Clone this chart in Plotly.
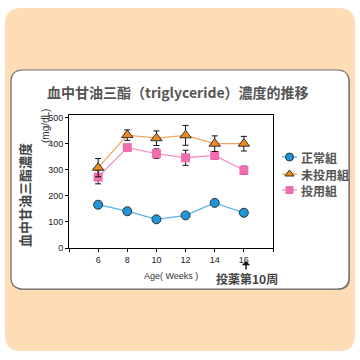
import plotly.graph_objects as go

weeks = [6, 8, 10, 12, 14, 16]
normal = [166, 141, 110, 125, 173, 135]
untreated = [308, 433, 421, 432, 400, 400]
untreated_err = [35, 20, 28, 38, 30, 28]
treated = [272, 385, 362, 346, 355, 298]
treated_err = [26, 10, 18, 29, 15, 16]
series_names = ["正常組", "未投用組", "投用組"]
x_ticks = [4, 6, 8, 10, 12, 14, 16, 18]
x_ticktext = ["", "6", "8", "10", "12", "14", "16", ""]
y_ticks = [0, 100, 200, 300, 400, 500]

W = H = 360
def px(x):
    return x / W
def py(y):
    return 1 - y / H

def rrect(x0, y0, x1, y1, r):
    rx = r / W
    ry = r / H
    X0, X1 = px(x0), px(x1)
    Y0, Y1 = py(y0), py(y1)  # Y0 top (larger), Y1 bottom
    return (f"M {X0+rx},{Y0} L {X1-rx},{Y0} Q {X1},{Y0} {X1},{Y0-ry} "
            f"L {X1},{Y1+ry} Q {X1},{Y1} {X1-rx},{Y1} "
            f"L {X0+rx},{Y1} Q {X0},{Y1} {X0},{Y1+ry} "
            f"L {X0},{Y0-ry} Q {X0},{Y0} {X0+rx},{Y0} Z")

blue_fill, blue_line = "#1E96D8", "#55B4E6"
orange_fill, orange_line = "#F08A1E", "#F4A55A"
pink_fill, pink_line = "#F06EB0", "#F290C2"
dark = "#333333"

fig = go.Figure()

fig.add_trace(go.Scatter(
    x=weeks, y=treated, mode="lines+markers", name=series_names[2],
    line=dict(color=pink_line, width=1.3),
    marker=dict(symbol="square", size=9, color=pink_fill, line=dict(width=0)),
    error_y=dict(type="data", array=treated_err, visible=True, color="#111", thickness=1, width=3),
    showlegend=False))
fig.add_trace(go.Scatter(
    x=weeks, y=untreated, mode="lines+markers", name=series_names[1],
    line=dict(color=orange_line, width=1.3),
    marker=dict(symbol="triangle-up", size=10, color=orange_fill, line=dict(width=1, color=dark)),
    error_y=dict(type="data", array=untreated_err, visible=True, color="#111", thickness=1, width=3),
    showlegend=False))
fig.add_trace(go.Scatter(
    x=weeks, y=normal, mode="lines+markers", name=series_names[0],
    line=dict(color=blue_line, width=1.3),
    marker=dict(symbol="circle", size=9, color=blue_fill, line=dict(width=1, color=dark)),
    showlegend=False))

# manual legend on an auxiliary axis
leg_y = [157, 174, 190]
leg_styles = [
    (blue_line, "circle", blue_fill, 1),
    (orange_line, "triangle-up", orange_fill, 1),
    (pink_line, "square", pink_fill, 0),
]
for yy, (lc, sym, fc, lw) in zip(leg_y, leg_styles):
    fig.add_trace(go.Scatter(
        x=[282, 297], y=[yy, yy], mode="lines", line=dict(color=lc, width=1.3),
        xaxis="x2", yaxis="y2", showlegend=False, hoverinfo="skip"))
    fig.add_trace(go.Scatter(
        x=[289.5], y=[yy], mode="markers",
        marker=dict(symbol=sym, size=8, color=fc, line=dict(width=lw, color=dark)),
        xaxis="x2", yaxis="y2", showlegend=False, hoverinfo="skip"))

shapes = [
    dict(type="path", path=rrect(5, 8, 355, 351, 16), xref="paper", yref="paper",
         fillcolor="#FDDCB6", line=dict(width=0), layer="below"),
    dict(type="path", path=rrect(12.5, 71.5, 350, 290, 12), xref="paper", yref="paper",
         fillcolor="#8a8a8a", line=dict(width=0), layer="below"),
    dict(type="path", path=rrect(11, 70, 349, 289, 12), xref="paper", yref="paper",
         fillcolor="white", line=dict(width=1.2, color="#6a6a6a"), layer="below"),
]

cjk = "Noto Sans CJK JP"
annotations = [
    dict(text="<b>血中甘油三酯（triglyceride）濃度的推移</b>", x=px(178), y=py(92),
         xref="paper", yref="paper", showarrow=False, font=dict(family=cjk, size=14, color="#555"),
         xanchor="center", yanchor="middle"),
    dict(text="<b>血中甘油三酯濃度</b>", x=px(24), y=py(195), textangle=-90,
         xref="paper", yref="paper", showarrow=False, font=dict(family=cjk, size=13, color="#444"),
         xanchor="center", yanchor="middle"),
    dict(text="(mg/dL)", x=px(46), y=py(126), textangle=-90,
         xref="paper", yref="paper", showarrow=False, font=dict(family="Liberation Sans", size=10, color="#333"),
         xanchor="center", yanchor="middle"),
    dict(text="Age( Weeks )", x=px(171), y=py(276),
         xref="paper", yref="paper", showarrow=False, font=dict(family="Liberation Sans", size=9, color="#333"),
         xanchor="center", yanchor="middle"),
    dict(text="<b>投薬第10周</b>", x=px(247), y=py(278),
         xref="paper", yref="paper", showarrow=False, font=dict(family=cjk, size=12, color="#444"),
         xanchor="center", yanchor="middle"),
    dict(text="", x=px(246), y=py(261), xref="paper", yref="paper", showarrow=True,
         ax=0, ay=10, arrowhead=1, arrowsize=1, arrowwidth=1.4, arrowcolor="#111"),
]
for yy, name in zip(leg_y, series_names):
    annotations.append(dict(text=f"<b>{name}</b>", x=px(299), y=py(yy), xref="paper", yref="paper",
                            showarrow=False, xanchor="left", yanchor="middle",
                            font=dict(family=cjk, size=12, color="#555")))

fig.update_layout(
    width=W, height=H, margin=dict(l=0, r=0, t=0, b=0),
    paper_bgcolor="white", plot_bgcolor="rgba(0,0,0,0)",
    shapes=shapes, annotations=annotations, showlegend=False,
    xaxis=dict(domain=[px(69), px(273)], range=[4, 18], tickvals=x_ticks, ticktext=x_ticktext,
               showline=True, linecolor="black", linewidth=1, mirror=True, showgrid=False,
               zeroline=False, ticks="outside", ticklen=3, tickcolor="black",
               tickfont=dict(family="Liberation Sans", size=9, color="#222"), automargin=False),
    yaxis=dict(domain=[py(248), py(115)], range=[0, 510], tickvals=y_ticks,
               showline=True, linecolor="black", linewidth=1, mirror=True, showgrid=False,
               zeroline=False, ticks="outside", ticklen=3, tickcolor="black",
               tickfont=dict(family="Liberation Sans", size=9, color="#222"), automargin=False),
    xaxis2=dict(domain=[px(278), px(300)], range=[278, 300], visible=False, fixedrange=True),
    yaxis2=dict(domain=[py(200), py(148)], range=[200, 148], visible=False, fixedrange=True),
)

fig.write_html("out.html", config={"displayModeBar": False},
               post_script="document.body.style.margin='0';document.body.style.overflow='hidden';")
